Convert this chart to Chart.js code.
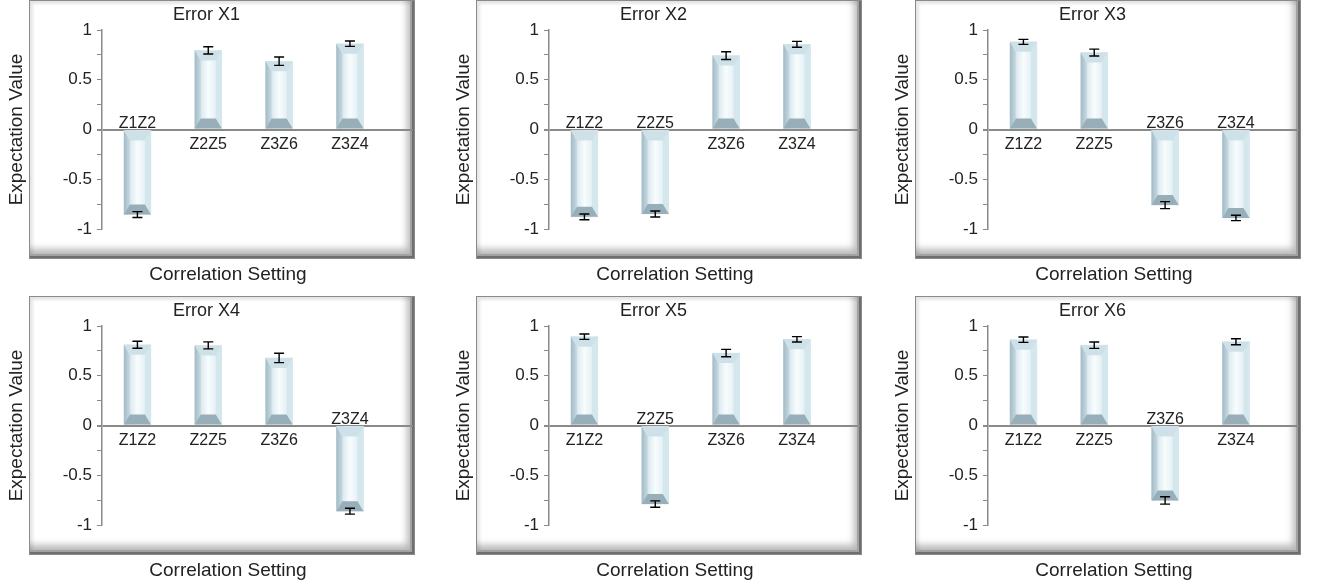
<!DOCTYPE html>
<html>
<head>
<meta charset="utf-8">
<script src="https://cdn.jsdelivr.net/npm/chart.js@4/dist/chart.umd.min.js"></script>
<style>
  body { margin: 0; background: #fff; width: 1325px; height: 587px; overflow: hidden; position: relative; }
  .panel { position: absolute; width: 440px; height: 290px; }
  .frame {
    position: absolute; left: 29px; top: 0; width: 386px; height: 259px;
    box-sizing: border-box; background: #fff; border: 1px solid #8a8a8a;
    box-shadow: inset -2px -2px 0 #6e6e6e,
                inset -4px -4px 0 #a2a2a2,
                inset -11px -13px 7px -4px rgba(0,0,0,0.28),
                inset 3px 3px 3px rgba(0,0,0,0.10);
  }
  .panel canvas { position: absolute; left: 0; top: 0; }
  .xlabel {
    position: absolute; left: 0; top: 263px; width: 456px; height: 22px;
    line-height: 22px; text-align: center; color: #222;
    font: 19px "Liberation Sans", Arial, sans-serif;
  }
</style>
</head>
<body>
<script>
const categories = ['Z1Z2', 'Z2Z5', 'Z3Z6', 'Z3Z4'];
const panelTitles = ['Error X1', 'Error X2', 'Error X3', 'Error X4', 'Error X5', 'Error X6'];

const valuesX1 = [-0.855, 0.795, 0.686, 0.862];
const errorsX1 = [0.030, 0.036, 0.042, 0.027];
const valuesX2 = [-0.878, -0.849, 0.743, 0.856];
const errorsX2 = [0.029, 0.030, 0.039, 0.030];
const valuesX3 = [0.881, 0.773, -0.760, -0.889];
const errorsX3 = [0.025, 0.035, 0.035, 0.027];
const valuesX4 = [0.812, 0.805, 0.679, -0.861];
const errorsX4 = [0.035, 0.035, 0.047, 0.030];
const valuesX5 = [0.893, -0.790, 0.728, 0.866];
const errorsX5 = [0.027, 0.032, 0.037, 0.027];
const valuesX6 = [0.862, 0.807, -0.753, 0.842];
const errorsX6 = [0.027, 0.032, 0.037, 0.030];

const allValues = [valuesX1, valuesX2, valuesX3, valuesX4, valuesX5, valuesX6];
const allErrors = [errorsX1, errorsX2, errorsX3, errorsX4, errorsX5, errorsX6];

const yAxisTitle = 'Expectation Value';
const xAxisTitle = 'Correlation Setting';

const panelLeft = [0, 447, 886];
const panelTop = [0, 296];

Chart.defaults.font.family = '"Liberation Sans", Arial, sans-serif';
Chart.defaults.color = '#222';

function polygon(ctx, pts, fill) {
  ctx.beginPath();
  ctx.moveTo(pts[0][0], pts[0][1]);
  for (let k = 1; k < pts.length; k++) ctx.lineTo(pts[k][0], pts[k][1]);
  ctx.closePath();
  ctx.fillStyle = fill;
  ctx.fill();
}

// bevelled bars, error bars and the category names next to the zero line
const bevelPlugin = {
  id: 'bevel',
  afterDatasetsDraw(chart) {
    const ctx = chart.ctx;
    const yScale = chart.scales.y;
    const ds = chart.data.datasets[0];
    const zero = yScale.getPixelForValue(0);
    const meta = chart.getDatasetMeta(0);
    ctx.save();
    meta.data.forEach((bar, i) => {
      const p = bar.getProps(['x', 'y', 'base', 'width'], true);
      const l = p.x - p.width / 2;
      const r = p.x + p.width / 2;
      const top = Math.min(p.y, p.base);
      const bot = Math.max(p.y, p.base);
      const dx = p.width * 0.22;
      const dy = Math.min(10, (bot - top) / 2);

      const g = ctx.createLinearGradient(l, 0, r, 0);
      g.addColorStop(0, '#b7ccd6');
      g.addColorStop(0.3, '#e3eff3');
      g.addColorStop(0.5, '#f8fcfd');
      g.addColorStop(0.75, '#e6f2f6');
      g.addColorStop(1, '#cfe3ea');
      ctx.fillStyle = g;
      ctx.fillRect(l, top, r - l, bot - top);

      const gl = ctx.createLinearGradient(l, 0, l + dx, 0);
      gl.addColorStop(0, '#a3bbc6');
      gl.addColorStop(1, '#c6d9e1');
      polygon(ctx, [[l, top], [l + dx, top + dy], [l + dx, bot - dy], [l, bot]], gl);
      polygon(ctx, [[r, top], [r - dx, top + dy], [r - dx, bot - dy], [r, bot]], '#d4e7ed');
      polygon(ctx, [[l, top], [r, top], [r - dx, top + dy], [l + dx, top + dy]], '#cfe1e8');
      polygon(ctx, [[l, bot], [r, bot], [r - dx, bot - dy], [l + dx, bot - dy]], '#98aeb9');

      // error bar
      const v = ds.values[i];
      const e = ds.errors[i];
      const yHi = yScale.getPixelForValue(v + e);
      const yLo = yScale.getPixelForValue(v - e);
      ctx.strokeStyle = '#000';
      ctx.lineWidth = 1.4;
      ctx.beginPath();
      ctx.moveTo(p.x, yHi); ctx.lineTo(p.x, yLo);
      ctx.moveTo(p.x - 5, yHi); ctx.lineTo(p.x + 5, yHi);
      ctx.moveTo(p.x - 5, yLo); ctx.lineTo(p.x + 5, yLo);
      ctx.stroke();

      // category name on the other side of the zero line
      ctx.fillStyle = '#222';
      ctx.font = '16px "Liberation Sans", Arial, sans-serif';
      ctx.textAlign = 'center';
      ctx.textBaseline = 'alphabetic';
      ctx.fillText(categories[i], p.x, v >= 0 ? zero + 19.5 : zero - 2);
    });
    ctx.restore();
  }
};

function tickText(v) {
  if (Math.abs(v * 2 - Math.round(v * 2)) > 1e-9) return '';
  return String(Math.round(v * 100) / 100);
}

function makePanel(n) {
  const col = n % 3;
  const row = Math.floor(n / 3);
  const panel = document.createElement('div');
  panel.className = 'panel';
  panel.style.left = panelLeft[col] + 'px';
  panel.style.top = panelTop[row] + 'px';

  const frame = document.createElement('div');
  frame.className = 'frame';
  panel.appendChild(frame);

  const canvas = document.createElement('canvas');
  canvas.width = 440;
  canvas.height = 290;
  panel.appendChild(canvas);

  const xlabel = document.createElement('div');
  xlabel.className = 'xlabel';
  xlabel.textContent = xAxisTitle;
  panel.appendChild(xlabel);

  document.body.appendChild(panel);

  const values = allValues[n];
  new Chart(canvas, {
    type: 'bar',
    data: {
      datasets: [{
        data: values.map((v, i) => ({ x: i + 1, y: v })),
        values: values,
        errors: allErrors[n],
        backgroundColor: '#e3eff3',
        borderWidth: 0,
        barThickness: 27
      }]
    },
    options: {
      responsive: false,
      animation: false,
      layout: { padding: { left: 0, right: 27, top: 0, bottom: 61 } },
      plugins: {
        legend: { display: false },
        tooltip: { enabled: false },
        title: {
          display: true,
          text: panelTitles[n],
          font: { size: 18, weight: 'normal' },
          color: '#222',
          padding: { top: 4.2, bottom: 4.2 }
        }
      },
      scales: {
        x: {
          type: 'linear',
          display: false,
          offset: false,
          min: 0.5,
          max: 4.89
        },
        y: {
          min: -1,
          max: 1,
          ticks: {
            stepSize: 0.25,
            callback: tickText,
            font: { size: 17 },
            color: '#222',
            padding: 5
          },
          grid: {
            drawOnChartArea: true,
            color: (c) => (c.tick && c.tick.value === 0 ? '#8a8a8a' : 'rgba(0,0,0,0)'),
            lineWidth: (c) => (c.tick && c.tick.value === 0 ? 2 : 1),
            tickColor: '#8a8a8a',
            tickLength: 5
          },
          border: { display: true, color: '#8a8a8a', width: 1.5 },
          title: {
            display: true,
            text: yAxisTitle,
            font: { size: 19 },
            color: '#222',
            padding: { top: 5.6, bottom: 29.3 }
          }
        }
      }
    },
    plugins: [bevelPlugin]
  });
}

for (let n = 0; n < 6; n++) makePanel(n);
</script>
</body>
</html>
